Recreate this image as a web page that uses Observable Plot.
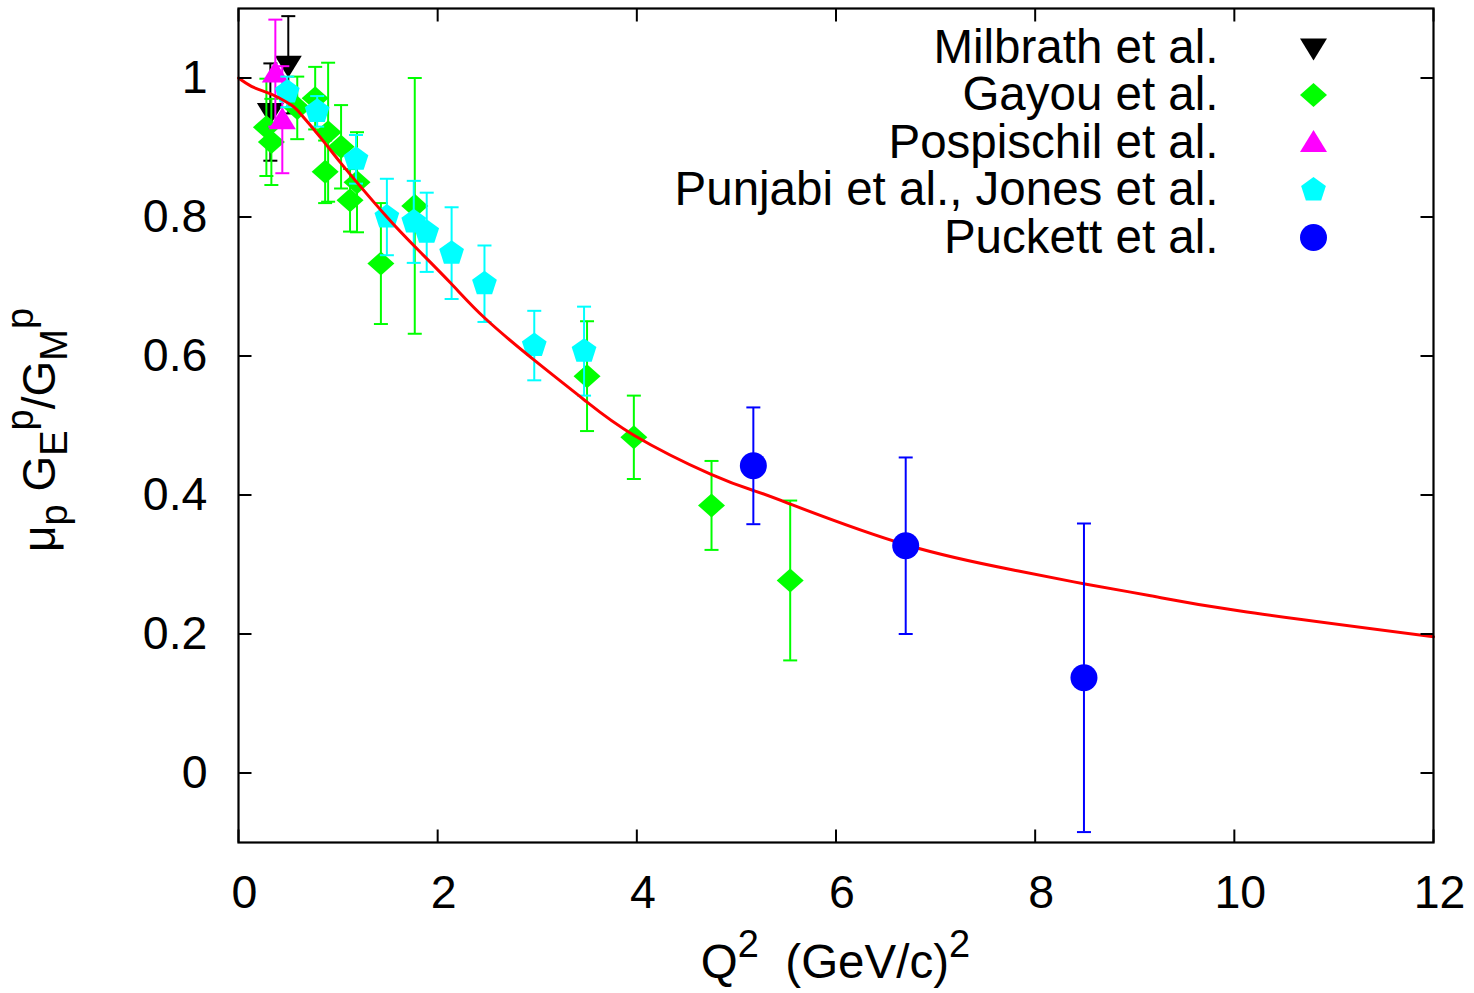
<!DOCTYPE html>
<html>
<head>
<meta charset="utf-8">
<script src="https://cdn.jsdelivr.net/npm/d3@7"></script>
<script src="https://cdn.jsdelivr.net/npm/@observablehq/plot@0.6"></script>
<style>
  html, body { margin: 0; padding: 0; background: #ffffff; }
  #chart { width: 1474px; height: 993px; }
</style>
</head>
<body>
<div id="chart"></div>
<script>
// ---------- data ----------
const xTicks = [0, 2, 4, 6, 8, 10, 12];
const yTicks = [0, 0.2, 0.4, 0.6, 0.8, 1];

const milbrathQ2 = [0.32, 0.50];
const milbrathRatio = [0.951, 1.019];
const milbrathErr = [0.07, 0.07];

const gayouQ2 = [0.28, 0.33, 0.59, 0.77, 0.87, 0.90, 1.03, 1.12, 1.19, 1.43, 1.77, 3.50, 3.97, 4.75, 5.54];
const gayouRatio = [0.929, 0.908, 0.957, 0.971, 0.865, 0.922, 0.901, 0.824, 0.850, 0.733, 0.816, 0.571, 0.483, 0.385, 0.277];
const gayouErr = [0.07, 0.062, 0.045, 0.045, 0.045, 0.10, 0.06, 0.045, 0.072, 0.087, 0.184, 0.079, 0.06, 0.064, 0.115];

const pospischilQ2 = [0.37, 0.44];
const pospischilRatio = [1.007, 0.940];
const pospischilErr = [0.077, 0.077];

const punjabiQ2 = [0.49, 0.79, 1.18, 1.49, 1.76, 1.89, 2.14, 2.47, 2.97, 3.47];
const punjabiRatio = [0.980, 0.952, 0.883, 0.800, 0.793, 0.778, 0.748, 0.704, 0.615, 0.607];
const punjabiErr = [0.022, 0.022, 0.035, 0.055, 0.059, 0.057, 0.066, 0.055, 0.05, 0.064];

const puckettQ2 = [5.17, 6.70, 8.49];
const puckettRatio = [0.442, 0.327, 0.137];
const puckettErr = [0.084, 0.127, 0.222];

const fitQ2 = [0, 0.13, 0.27, 0.40, 0.53, 0.62, 0.82, 1.02, 1.23, 1.49, 1.76, 2.13, 2.47, 2.97, 3.47, 3.97, 4.74, 5.18, 5.54, 6.71, 7.82, 8.50, 9.16, 10.06, 12];
const fitRatio = [1.000, 0.988, 0.980, 0.972, 0.961, 0.949, 0.915, 0.879, 0.843, 0.800, 0.759, 0.705, 0.655, 0.594, 0.537, 0.486, 0.430, 0.406, 0.387, 0.328, 0.291, 0.272, 0.255, 0.233, 0.196];

const seriesLabels = ["Milbrath et al.", "Gayou et al.", "Pospischil et al.", "Punjabi et al., Jones et al.", "Puckett et al."];
const seriesColors = ["#000000", "#00ff00", "#ff00ff", "#00ffff", "#0000ff"];

// ---------- symbols ----------
const rad = s => Math.sqrt(s / Math.PI);
const diamondSym = { draw(ctx, s) { const r = rad(s); ctx.moveTo(0, -r * 0.89); ctx.lineTo(r, 0); ctx.lineTo(0, r * 0.89); ctx.lineTo(-r, 0); ctx.closePath(); } };
const downTriSym = { draw(ctx, s) { const r = rad(s); ctx.moveTo(-r, -r * 0.67); ctx.lineTo(r, -r * 0.67); ctx.lineTo(0, r * 0.96); ctx.closePath(); } };
const upTriSym = { draw(ctx, s) { const r = rad(s); ctx.moveTo(-r, r * 0.7); ctx.lineTo(r, r * 0.7); ctx.lineTo(0, -r * 0.93); ctx.closePath(); } };
const pentagonSym = { draw(ctx, s) { const r = rad(s); for (let k = 0; k < 5; k++) { const a = -Math.PI / 2 + k * 2 * Math.PI / 5; const px = r * Math.cos(a), py = r * Math.sin(a); if (k === 0) ctx.moveTo(px, py); else ctx.lineTo(px, py); } ctx.closePath(); } };
const circleSym = { draw(ctx, s) { const r = rad(s); ctx.moveTo(r, 0); ctx.arc(0, 0, r, 0, 2 * Math.PI); ctx.closePath(); } };
const capSym = { draw(ctx) { ctx.moveTo(-7, 0); ctx.lineTo(7, 0); } };
const tickUp = { draw(ctx) { ctx.moveTo(0, 0); ctx.lineTo(0, -13); } };
const tickDown = { draw(ctx) { ctx.moveTo(0, 0); ctx.lineTo(0, 13); } };
const tickRight = { draw(ctx) { ctx.moveTo(0, 0); ctx.lineTo(13, 0); } };
const tickLeft = { draw(ctx) { ctx.moveTo(0, 0); ctx.lineTo(-13, 0); } };

const seriesSymbols = [downTriSym, diamondSym, upTriSym, pentagonSym, circleSym];
const seriesR = [13.5, 13.5, 13.5, 13, 13.5];

const rows = (q, v, e) => q.map((d, i) => ({ q: d, v: v[i], e: e[i] }));
const seriesData = [
  rows(milbrathQ2, milbrathRatio, milbrathErr),
  rows(gayouQ2, gayouRatio, gayouErr),
  rows(pospischilQ2, pospischilRatio, pospischilErr),
  rows(punjabiQ2, punjabiRatio, punjabiErr),
  rows(puckettQ2, puckettRatio, puckettErr)
];
const fitData = fitQ2.map((q, i) => ({ q, v: fitRatio[i] }));

function seriesMarks(i) {
  const data = seriesData[i], color = seriesColors[i];
  return [
    Plot.ruleX(data, { x: "q", y1: d => d.v - d.e, y2: d => d.v + d.e, stroke: color, strokeWidth: 2 }),
    Plot.dot(data, { x: "q", y: d => d.v + d.e, symbol: capSym, r: 3, stroke: color, strokeWidth: 2, fill: "none" }),
    Plot.dot(data, { x: "q", y: d => d.v - d.e, symbol: capSym, r: 3, stroke: color, strokeWidth: 2, fill: "none" }),
    Plot.dot(data, { x: "q", y: "v", symbol: seriesSymbols[i], r: seriesR[i], fill: color, stroke: "none" })
  ];
}

const legendMarks = seriesLabels.flatMap((label, i) => [
  Plot.text([label], { x: null, frameAnchor: "top-right", text: d => d, dx: -215, dy: 39 + i * 47.5, textAnchor: "end", lineAnchor: "middle", fill: "#000", fontSize: 47.5 }),
  Plot.dot([label], { x: null, frameAnchor: "top-right", dx: -120, dy: 39 + i * 47.5, symbol: seriesSymbols[i], r: seriesR[i], fill: seriesColors[i], stroke: "none" })
]);

try {
  const plot = Plot.plot({
    width: 1474,
    height: 993,
    marginLeft: 238,
    marginRight: 41,
    marginTop: 8,
    marginBottom: 151,
    style: { fontFamily: "'Liberation Sans', Arial, Helvetica, sans-serif", fontSize: "46px", background: "#ffffff", color: "#000" },
    x: { domain: [0, 12] },
    y: { domain: [-0.1, 1.1] },
    marks: [
      ...seriesMarks(0),
      ...seriesMarks(1),
      ...seriesMarks(2),
      ...seriesMarks(3),
      Plot.line(fitData, { x: "q", y: "v", stroke: "#ff0000", strokeWidth: 3, curve: "natural" }),
      ...seriesMarks(4),
      Plot.axisX(xTicks, { anchor: "bottom", tickSize: 0, tickPadding: 32, dx: 6, label: null, tickFormat: d => String(d), fontSize: 46.5 }),
      Plot.axisY(yTicks, { anchor: "left", tickSize: 0, tickPadding: 31, label: null, tickFormat: d => String(d), fontSize: 46.5 }),
      Plot.dot(xTicks, { x: d => d, frameAnchor: "bottom", symbol: tickUp, stroke: "#000", strokeWidth: 2, fill: "none" }),
      Plot.dot(xTicks, { x: d => d, frameAnchor: "top", symbol: tickDown, stroke: "#000", strokeWidth: 2, fill: "none" }),
      Plot.dot(yTicks, { y: d => d, frameAnchor: "left", symbol: tickRight, stroke: "#000", strokeWidth: 2, fill: "none" }),
      Plot.dot(yTicks, { y: d => d, frameAnchor: "right", symbol: tickLeft, stroke: "#000", strokeWidth: 2, fill: "none" }),
      Plot.frame({ stroke: "#000", strokeWidth: 2.2 }),
      ...legendMarks
    ]
  });
  document.getElementById("chart").appendChild(plot);

  // axis titles with sub/superscripts
  const svg = d3.select(plot);
  const xr = plot.scale("x").range, yr = plot.scale("y").range;
  const xMid = (xr[0] + xr[1]) / 2, yMid = (yr[0] + yr[1]) / 2;
  const sm = 38;

  const xt = svg.append("text")
    .attr("x", xMid).attr("y", yr[0] + 136)
    .attr("text-anchor", "middle").attr("fill", "#000")
    .attr("font-size", 47.5).style("white-space", "pre");
  xt.append("tspan").text("Q");
  xt.append("tspan").attr("dy", -21).attr("font-size", sm).text("2");
  xt.append("tspan").attr("dy", 21).text("  (GeV/c)");
  xt.append("tspan").attr("dy", -21).attr("font-size", sm).text("2");

  const yt = svg.append("text")
    .attr("transform", `translate(55,${yMid + 5}) rotate(-90)`)
    .attr("text-anchor", "middle").attr("fill", "#000")
    .attr("font-size", 46).style("white-space", "pre");
  yt.append("tspan").text("\u03bc");
  yt.append("tspan").attr("dy", 12).attr("font-size", sm).text("p");
  yt.append("tspan").attr("dy", -12).text(" G");
  yt.append("tspan").attr("dy", 12).attr("font-size", sm).text("E");
  yt.append("tspan").attr("dy", -34).attr("font-size", sm).text("p");
  yt.append("tspan").attr("dy", 22).text("/G");
  yt.append("tspan").attr("dy", 12).attr("font-size", sm).text("M");
  yt.append("tspan").attr("dy", -34).attr("font-size", sm).text("p");
} catch (err) {
  document.body.insertAdjacentHTML("beforeend", `<pre style="color:red">${err && err.stack || err}</pre>`);
}
</script>
</body>
</html>
